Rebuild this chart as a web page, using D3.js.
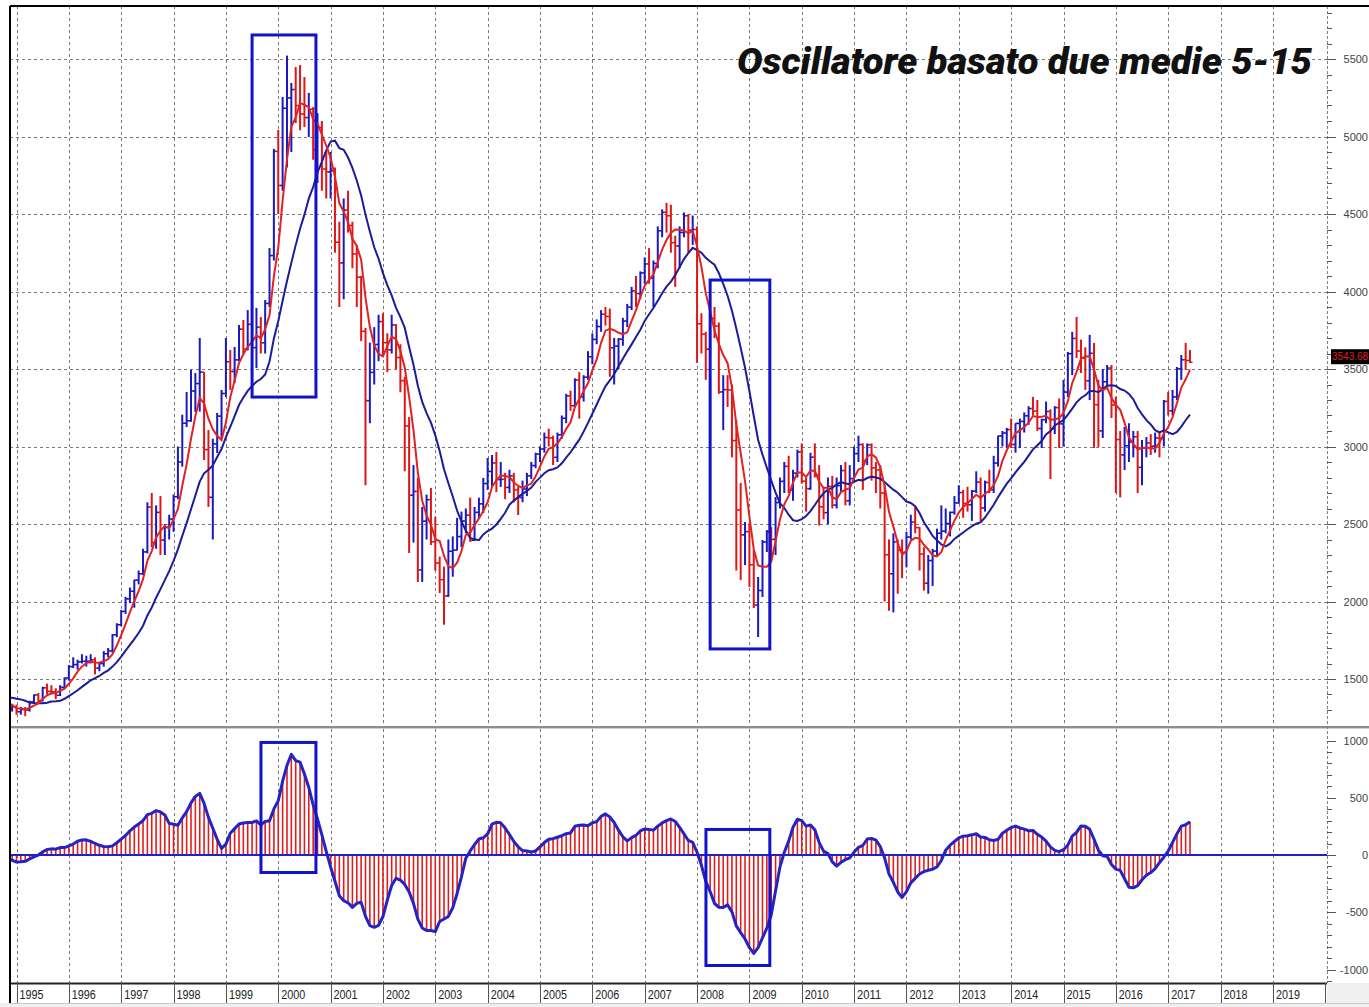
<!DOCTYPE html>
<html><head><meta charset="utf-8">
<script src="https://cdn.jsdelivr.net/npm/d3@7"></script>
<style>body{margin:0;background:#fff}svg{display:block}</style>
</head><body><svg id="c" width="1369" height="1007"></svg>
<script>
// ---------- DATA (monthly bars, first bar = Nov 1994, last = Jun 2017) ----------
const firstBarYear = 1994, firstBarMonth = 10; // 0-based month (Nov)
// closes before the first visible bar (Sep 1993 .. Oct 1994), needed for the moving averages
const warmupClose = [1303,1384,1363,1433,1529,1440,1387,1435,1378,1300,1366,1398,1311,1328];
const open = [
 1328,1306,
 1321,1289,1303,1300,1352,1397,1361,1443,1420,1418,1395,1446,
 1507,1580,1593,1611,1614,1614,1624,1570,1600,1663,1681,1785,
 1850,1936,2017,2066,2138,2179,2320,2609,2380,2575,2396,2478,
 2532,2676,2900,3150,3166,3358,3406,3480,2980,2672,3017,3196,
 3342,3547,3484,3559,3757,3629,3788,3638,3770,3669,3923,4232,
 4904,4684,5182,5249,5303,5200,5145,5122,5175,4915,5058,4790,
 4772,4779,4318,4185,4525,4426,4243,4092,3743,3296,3478,3658,
 3806,3670,3624,3784,3574,3425,3133,2686,2710,2204,2518,2657,
 2386,2248,2141,2036,2324,2331,2419,2519,2557,2395,2575,2630,
 2761,2839,2894,2787,2788,2736,2811,2720,2671,2726,2811,2877,
 2951,2984,3058,3055,2930,3076,3182,3327,3263,3429,3320,3447,
 3579,3691,3774,3853,3839,3637,3648,3692,3809,3899,4004,3987,
 4120,4178,4087,4181,4392,4511,4489,4315,4294,4381,4489,4395,
 4400,3792,3724,3628,3826,3777,3352,3367,3365,3038,2591,2430,
 2451,2237,1977,2071,2384,2451,2401,2638,2775,2872,2720,2828,
 2965,2776,2728,2931,2817,2611,2573,2742,2622,2748,2845,2650,
 2793,2954,3013,2910,3011,2862,2849,2700,2302,2179,2385,2330,
 2317,2416,2512,2477,2306,2118,2264,2325,2440,2454,2503,2575,
 2636,2703,2633,2624,2712,2770,2603,2768,2721,2893,3068,3087,
 3109,3013,3149,3162,3198,3245,3228,3116,3173,3226,3114,3251,
 3146,3351,3599,3697,3616,3570,3424,3601,3270,3101,3418,3506,
 3268,3045,2946,3005,3028,3063,2865,2991,3023,3002,3055,3052,
 3291,3231,3320,3501,3560,3555];
const high = [
 1345,1340,
 1335,1320,1320,1360,1400,1410,1450,1470,1460,1440,1460,1510,
 1590,1640,1625,1660,1650,1660,1640,1610,1680,1700,1790,1860,
 1945,2030,2090,2140,2200,2340,2640,2700,2620,2680,2500,2560,
 2690,3000,3205,3352,3495,3474,3700,3480,3106,3050,3216,3365,
 3700,3623,3642,3784,3816,3880,3800,3894,3835,3945,4280,4920,
 5042,5255,5522,5345,5448,5461,5384,5281,5190,5150,5100,4900,
 4900,4800,4450,4600,4650,4450,4300,4100,3765,3670,3770,3850,
 3860,3730,3850,3790,3660,3450,3190,2880,2800,2610,2690,2732,
 2545,2290,2225,2400,2420,2540,2580,2600,2670,2610,2670,2797,
 2926,2945,2964,2900,2830,2850,2830,2739,2780,2830,2900,2960,
 3000,3090,3115,3070,3090,3200,3340,3360,3440,3480,3460,3615,
 3730,3820,3880,3900,3890,3700,3700,3830,3920,4030,4100,4130,
 4220,4280,4200,4420,4530,4572,4560,4360,4420,4510,4500,4490,
 4420,3860,3740,3840,3900,3800,3460,3460,3400,3171,2765,2513,
 2506,2332,2158,2397,2461,2480,2674,2800,2900,2940,2850,2980,
 3020,2800,2960,3020,2880,2740,2800,2810,2800,2880,2900,2880,
 3000,3070,3020,3020,3020,2900,2880,2750,2400,2440,2400,2400,
 2450,2560,2610,2480,2350,2300,2340,2470,2620,2600,2580,2680,
 2750,2720,2740,2720,2840,2800,2780,2850,2940,3070,3100,3120,
 3180,3150,3180,3220,3260,3320,3300,3180,3290,3240,3260,3310,
 3430,3610,3740,3836,3690,3640,3720,3668,3430,3500,3526,3526,
 3320,3100,3126,3150,3100,3100,3042,3061,3080,3090,3094,3300,
 3352,3365,3513,3590,3668,3623];
const low = [
 1290,1290,
 1270,1270,1260,1290,1340,1350,1355,1400,1400,1370,1390,1440,
 1490,1570,1560,1600,1580,1600,1530,1550,1580,1640,1670,1770,
 1840,1920,1990,1960,2110,2170,2310,2350,2340,2300,2300,2400,
 2450,2660,2870,3126,3160,3223,3225,2913,2610,2400,2958,3055,
 3319,3365,3410,3550,3600,3620,3620,3506,3600,3600,3900,4200,
 4500,4650,4800,4900,5087,5040,5061,4997,4850,4700,4650,4600,
 4600,4250,3900,3950,4380,4150,3900,3680,2750,3150,3400,3550,
 3580,3480,3600,3500,3350,2840,2313,2380,2126,2126,2400,2364,
 2200,2055,1850,2030,2160,2330,2350,2440,2384,2390,2540,2571,
 2720,2739,2706,2739,2660,2700,2640,2558,2640,2680,2790,2860,
 2900,2960,3000,2880,2900,3050,3150,3230,3250,3180,3290,3430,
 3530,3660,3740,3780,3450,3400,3500,3650,3770,3880,3900,3950,
 4050,4050,3900,4150,4350,4380,4250,4030,4150,4350,4250,4300,
 3540,3600,3430,3580,3700,3340,3106,3255,2930,2200,2139,2235,
 2094,1958,1771,2029,2319,2268,2300,2600,2700,2700,2650,2800,
 2760,2580,2720,2800,2490,2530,2500,2600,2600,2700,2620,2620,
 2770,2900,2720,2880,2780,2700,2600,2000,1940,1930,2050,2150,
 2220,2400,2440,2200,2070,2050,2100,2300,2400,2440,2420,2560,
 2630,2540,2580,2520,2700,2520,2580,2700,2700,2870,3000,2990,
 2990,2960,2990,3090,3140,3200,3100,2990,3150,2790,3080,2990,
 3000,3320,3460,3571,3474,3365,3300,2990,2997,3055,3380,3184,
 2700,2672,2848,2900,2930,2700,2750,2930,2945,2960,2930,3000,
 3200,3200,3300,3430,3494,3540];
const close = [
 1306,1321,
 1289,1303,1300,1352,1397,1361,1443,1420,1418,1395,1446,1507,
 1580,1593,1611,1614,1614,1624,1570,1600,1663,1681,1785,1850,
 1936,2017,2066,2138,2179,2320,2609,2380,2575,2396,2478,2532,
 2676,2900,3150,3166,3358,3406,3480,2980,2672,3017,3196,3342,
 3547,3484,3559,3757,3629,3788,3638,3770,3669,3923,4232,4904,
 4684,5182,5249,5303,5200,5145,5122,5175,4915,5058,4790,4772,
 4779,4318,4185,4525,4426,4243,4092,3743,3296,3478,3658,3806,
 3670,3624,3784,3574,3425,3133,2686,2710,2204,2518,2657,2386,
 2248,2141,2036,2324,2331,2419,2519,2557,2395,2575,2630,2761,
 2839,2894,2787,2788,2736,2811,2720,2671,2726,2811,2877,2951,
 2984,3058,3055,2930,3076,3182,3327,3263,3429,3320,3447,3579,
 3691,3774,3853,3839,3637,3648,3692,3809,3899,4004,3987,4120,
 4178,4087,4181,4392,4511,4489,4315,4294,4381,4489,4395,4400,
 3792,3724,3628,3826,3777,3352,3367,3365,3038,2591,2430,2451,
 2237,1977,2071,2384,2451,2401,2638,2775,2872,2720,2828,2965,
 2776,2728,2931,2817,2611,2573,2742,2622,2748,2845,2650,2793,
 2954,3013,2910,3011,2862,2849,2700,2302,2179,2385,2330,2317,
 2416,2512,2477,2306,2118,2264,2325,2440,2454,2503,2575,2636,
 2703,2633,2624,2712,2770,2603,2768,2721,2893,3068,3087,3109,
 3013,3149,3162,3198,3245,3228,3116,3173,3226,3114,3251,3146,
 3351,3599,3697,3616,3570,3424,3601,3270,3101,3418,3506,3268,
 3045,2946,3005,3028,3063,2865,2991,3023,3002,3055,3052,3291,
 3231,3320,3501,3560,3555,3543.68];
const fastPeriod = 5, slowPeriod = 15;
const yearLabels = d3.range(1995, 2020);
const priceTicks = [1500,2000,2500,3000,3500,4000,4500,5000,5500];
const oscTicks = [-1000,-500,0,500,1000];
const titleText = "Oscillatore basato due medie 5-15";
const lastPriceText = "3543.68";
// highlight boxes (decimal years / index values)
const priceBoxes = [{t0:1999.50,t1:2000.72,v0:5655,v1:3319},{t0:2008.25,t1:2009.39,v0:4074,v1:1694}];
const oscBoxes   = [{t0:1999.67,t1:2000.72,v0:983,v1:-153},{t0:2008.17,t1:2009.39,v0:223,v1:-965}];

// ---------- LAYOUT ----------
const W=1369,H=1007, PL=10, PR=1327, PT=6, mainBot=726, oscTop=729, stripTop=983, stripBot=1003;
const svg=d3.select("#c");
const x=d3.scaleLinear().domain([1995,2020]).range([16.5,1325.25]);
const yP=d3.scaleLinear().domain([1500,5500]).range([679,59]);
const yO=d3.scaleLinear().domain([-1000,1000]).range([969.5,740.5]);

// derived indicators (moving averages of the closes, oscillator = fast - slow)
const allClose=warmupClose.concat(close), off=warmupClose.length;
function sma(n,j){let s=0;for(let k=j-n+1;k<=j;k++)s+=allClose[k];return s/n;}
const bars=close.map((c,i)=>{
  const t=firstBarYear+(firstBarMonth+i)/12, j=i+off;
  const f=sma(fastPeriod,j), s=sma(slowPeriod,j);
  return {t,o:open[i],h:high[i],l:low[i],c,f,s,osc:f-s};
});

const defs=svg.append("defs");
defs.append("clipPath").attr("id","cm").append("rect").attr("x",PL+1).attr("y",PT+1).attr("width",PR-PL-1).attr("height",mainBot-PT-1);
defs.append("clipPath").attr("id","co").append("rect").attr("x",PL+1).attr("y",oscTop).attr("width",PR-PL-1).attr("height",stripTop-oscTop);

// grid
const grid=svg.append("g").attr("stroke","#7a7a7a").attr("stroke-width",1).attr("stroke-dasharray","3,3");
grid.selectAll(".hg").data(priceTicks).join("line").attr("x1",PL).attr("x2",PR).attr("y1",d=>Math.round(yP(d))+0.5).attr("y2",d=>Math.round(yP(d))+0.5);
grid.append("g").selectAll("line").data(yearLabels).join("line").attr("x1",d=>Math.round(x(d))+0.5).attr("x2",d=>Math.round(x(d))+0.5).attr("y1",PT).attr("y2",mainBot);
grid.append("g").selectAll("line").data(yearLabels).join("line").attr("x1",d=>Math.round(x(d))+0.5).attr("x2",d=>Math.round(x(d))+0.5).attr("y1",oscTop).attr("y2",stripTop);

// price bars
const up="#1a1ac0", dn="#e01515";
const gm=svg.append("g").attr("clip-path","url(#cm)");
const gb=gm.append("g");
bars.forEach(b=>{
  const col=b.c>=b.o?up:dn, xx=x(b.t);
  gb.append("line").attr("x1",xx).attr("x2",xx).attr("y1",yP(b.l)).attr("y2",yP(b.h)).attr("stroke",col).attr("stroke-width",2);
  gb.append("line").attr("x1",xx-2.5).attr("x2",xx).attr("y1",yP(b.o)).attr("y2",yP(b.o)).attr("stroke",col).attr("stroke-width",1.5);
  gb.append("line").attr("x1",xx).attr("x2",xx+2.5).attr("y1",yP(b.c)).attr("y2",yP(b.c)).attr("stroke",col).attr("stroke-width",1.5);
});
gm.append("path").datum(bars).attr("fill","none").attr("stroke","#1c1c9a").attr("stroke-width",2)
  .attr("d",d3.line().x(d=>x(d.t)).y(d=>yP(d.s)));
gm.append("path").datum(bars).attr("fill","none").attr("stroke","#e02222").attr("stroke-width",2)
  .attr("d",d3.line().x(d=>x(d.t)).y(d=>yP(d.f)));

// oscillator
const go=svg.append("g").attr("clip-path","url(#co)");
go.append("g").selectAll("line").data(bars).join("line").attr("x1",d=>x(d.t)).attr("x2",d=>x(d.t)).attr("y1",yO(0)).attr("y2",d=>yO(d.osc))
  .attr("stroke","#e01c1c").attr("stroke-width",1.6);
go.append("line").attr("x1",PL).attr("x2",PR).attr("y1",yO(0)).attr("y2",yO(0)).attr("stroke","#2020c8").attr("stroke-width",2);
go.append("path").datum(bars).attr("fill","none").attr("stroke","#2424c4").attr("stroke-width",3).attr("stroke-linejoin","round")
  .attr("d",d3.line().x(d=>x(d.t)).y(d=>yO(d.osc)));

// highlight boxes
const boxCol="#1212c8";
svg.append("g").selectAll("rect").data(priceBoxes).join("rect")
  .attr("x",d=>x(d.t0)).attr("width",d=>x(d.t1)-x(d.t0)).attr("y",d=>yP(d.v0)).attr("height",d=>yP(d.v1)-yP(d.v0))
  .attr("fill","none").attr("stroke",boxCol).attr("stroke-width",3);
svg.append("g").selectAll("rect").data(oscBoxes).join("rect")
  .attr("x",d=>x(d.t0)).attr("width",d=>x(d.t1)-x(d.t0)).attr("y",d=>yO(d.v0)).attr("height",d=>yO(d.v1)-yO(d.v0))
  .attr("fill","none").attr("stroke",boxCol).attr("stroke-width",3);

// panel separator
svg.append("line").attr("x1",PL).attr("x2",W).attr("y1",727).attr("y2",727).attr("stroke","#8c8c8c").attr("stroke-width",2);
svg.append("line").attr("x1",PL).attr("x2",W).attr("y1",728.5).attr("y2",728.5).attr("stroke","#d0d0d0").attr("stroke-width",1);

// right axis
svg.append("line").attr("x1",PR+0.5).attr("x2",PR+0.5).attr("y1",PT).attr("y2",stripBot).attr("stroke","#808080").attr("stroke-dasharray","3,2");
const ax=svg.append("g").attr("stroke","#555").attr("stroke-width",1);
d3.range(1300,5900,100).forEach(v=>{const yy=Math.round(yP(v))+0.5; if(yy>PT+2&&yy<mainBot-1) ax.append("line").attr("x1",PR).attr("x2",PR+(v%500===0?9:5)).attr("y1",yy).attr("y2",yy);});
d3.range(-1100,1200,100).forEach(v=>{const yy=Math.round(yO(v))+0.5; if(yy>oscTop+1&&yy<stripTop-1) ax.append("line").attr("x1",PR).attr("x2",PR+(v%500===0?9:5)).attr("y1",yy).attr("y2",yy);});
const lab=svg.append("g").attr("font-family","Liberation Sans, Arial, sans-serif").attr("font-size",11).attr("fill","#444").attr("text-anchor","end");
lab.append("g").selectAll("text").data(priceTicks).join("text").attr("x",1368).attr("y",d=>yP(d)+4).text(d=>d);
lab.append("g").selectAll("text").data(oscTicks).join("text").attr("x",1368).attr("y",d=>yO(d)+4).text(d=>d);

// last price tag
const lastY=yP(close[close.length-1]);
svg.append("rect").attr("x",1331).attr("y",lastY-13).attr("width",38).attr("height",15).attr("fill","#000");
svg.append("text").attr("x",1332).attr("y",lastY-2).attr("font-family","Liberation Sans, Arial, sans-serif").attr("font-size",10)
  .attr("fill","#e02020").text(lastPriceText);

// bottom year strip
svg.append("rect").attr("x",PR).attr("y",stripTop).attr("width",W-PR).attr("height",H-stripTop).attr("fill","#f0f0f0");
svg.append("rect").attr("x",0).attr("y",stripBot).attr("width",W).attr("height",H-stripBot).attr("fill","#f0f0f0");
svg.append("line").attr("x1",PL).attr("x2",PR).attr("y1",stripTop+0.5).attr("y2",stripTop+0.5).attr("stroke","#222").attr("stroke-width",2);
svg.append("line").attr("x1",PL).attr("x2",W).attr("y1",stripBot+0.5).attr("y2",stripBot+0.5).attr("stroke","#c8c8c8");
const ys=svg.append("g");
ys.append("g").selectAll("line").data(yearLabels.concat([2020])).join("line").attr("x1",d=>Math.round(x(d))+0.5).attr("x2",d=>Math.round(x(d))+0.5)
  .attr("y1",stripTop).attr("y2",stripBot).attr("stroke","#555");
ys.append("g").selectAll("text").data(yearLabels).join("text").attr("x",d=>x(d)+3).attr("y",999)
  .attr("font-family","Liberation Sans, Arial, sans-serif").attr("font-size",13).attr("fill","#222")
  .attr("textLength",24).attr("lengthAdjust","spacingAndGlyphs").text(d=>d);

// frame
svg.append("line").attr("x1",PL).attr("x2",W).attr("y1",PT).attr("y2",PT).attr("stroke","#000").attr("stroke-width",2);
svg.append("line").attr("x1",PL).attr("x2",PL).attr("y1",PT).attr("y2",stripBot).attr("stroke","#000").attr("stroke-width",2);

// title
svg.append("text").attr("x",737).attr("y",74).attr("font-family","Roboto, sans-serif").attr("font-style","italic").attr("font-weight",900)
  .attr("font-size",37).attr("fill","#111").attr("textLength",575).attr("lengthAdjust","spacingAndGlyphs").text(titleText);
</script></body></html>
